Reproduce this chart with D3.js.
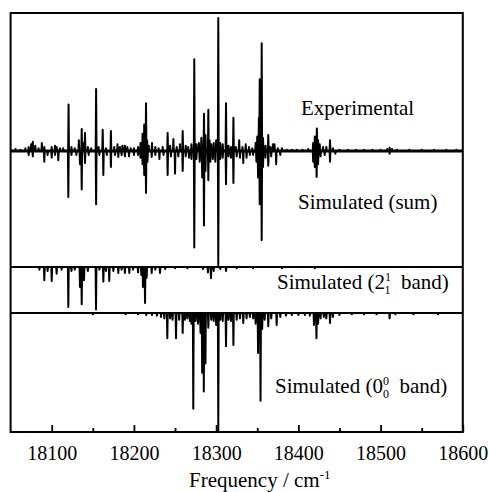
<!DOCTYPE html>
<html>
<head>
<meta charset="utf-8">
<script src="https://cdn.jsdelivr.net/npm/d3@7"></script>
<style>
  body { margin: 0; background: #fff; }
  svg { display: block; }
</style>
</head>
<body>
<svg></svg>
<script>
// chart size
var width = 489;
var height = 492;
var serif = "'Liberation Serif', 'Times New Roman', 'DejaVu Serif', serif";

// peak lists: [frequency (cm-1), intensity]
var experimental = [
  [18056,1.5],[18062,1],[18068,2],[18072,3],[18075,5],[18077,7],[18080,4],[18084,2],[18088,6],[18091,3],[18100,3],[18104,4],[18106,3],[18110,2],[18114,2],
  [18120.5,35],[18124,3],[18128,2],
  [18133,8],[18136.5,16.5],[18138,6],[18140.5,13.5],[18144,3],[18148,2],
  [18154,46.6],[18157,3],
  [18162,16],[18166,2],[18172,15],[18176,3],[18180,5],[18183,3],[18186,4],[18189,4],[18192,3],[18196,2],[18200,2],
  [18205,3],[18208,6],[18210.5,13],[18212.5,20],[18214.7,36],[18216,8],[18218,4],
  [18222,6],[18226,3],[18230,2],[18235,3],
  [18241,13.5],[18244,4],[18248,9],[18252,3],[18256,5],[18259.3,15],[18263,4],[18266,3],[18270,5],
  [18273.4,69],[18276,5],[18279,6],[18282,10],[18285.2,28],[18287,12],[18290.5,31],[18292,8],[18294,5],[18297,6],[18300,8],
  [18302.6,100],[18305,6],[18308,5],[18312,36],[18315,4],[18318,3],[18321,25],[18324,3],[18328,8],[18332,3],[18336,5],[18340,3],[18344,2],
  [18348,6],[18350,11],[18352,25],[18353,54],[18355.4,81],[18357,10],[18360,4],[18363.4,12],[18366,3],[18369,5],[18371,5],[18375,2],[18380,2],
  [18386,1],[18392,1],[18398,1],[18405,1],[18412,1.5],
  [18418,6],[18420,11],[18422.5,17],[18424,8],[18426,5],[18430,3],[18434,3],[18438.5,8],[18442,2],
  [18450,1],[18460,1],[18470,1],[18480,1],[18490,1],[18500,1],[18508,1.5],[18511,2.5],[18514,1.5],[18520,1],[18535,1],[18550,1],[18565,1],[18580,1],[18592,1]
];

var simulatedSum = [
  [18072,3],[18077,4],[18091,8],[18095,3],[18100,5],[18104,3],[18108,7],
  [18120.2,34.6],[18124,3],[18130,3],[18134.4,10],[18136.5,29],[18140.5,9],[18145,3],
  [18154,40],[18158,3],[18162.8,18],[18167,3],[18172,12],[18177,3],[18181,4.5],[18185,3],[18189,4],[18194,4],[18200,3],[18205,3],
  [18208,5],[18210.5,10],[18212.5,18],[18214.7,31.6],[18216.5,8],[18221.6,4.5],[18226,3],[18231,6],[18236,3],
  [18241,18],[18245,4],[18250,17],[18254,4],[18259.3,15],[18263,4],[18267,5],[18270,6],
  [18273.4,72.6],[18276,6],[18280,8],[18283,20],[18285.2,56],[18287,15],[18290.5,22],[18293,8],[18296,6],[18299,8],
  [18302.6,86],[18305,6],[18308,5],[18312,25],[18315,4],[18318,5],[18321,24],[18325,4],[18329,5],[18333,9],[18337,5],[18341,3],[18345,3],
  [18349,8],[18351,20],[18353,40],[18355.4,67],[18357,12],[18360,5],[18363.4,11],[18367,4],[18373,10],[18378,3],
  [18418,8],[18420,12],[18422.2,19.5],[18424,10],[18427,4],[18432,3],[18438.5,8],[18445,2],[18511,2]
];

var band21 = [
  [18085,2],[18091,10],[18095,3],[18100,10.5],[18106,5],[18112,2],
  [18120.2,30],[18124,3],[18128,2],[18134.4,15],[18136.5,28],[18139.3,10],[18144,3],
  [18153.9,32],[18158,2],[18162.8,11],[18166,3],[18170,10.5],[18175,3],[18181,4.5],[18185,2],[18189,4.5],[18194.4,4.5],[18199,2],[18205,4],
  [18209,6],[18211,15],[18213.5,27],[18215.5,8],[18221.6,4.5],[18226,2],[18231.7,4.5],[18238,1.5],[18250,1],[18265,1],
  [18284,1.5],[18290,4],[18293.7,8.5],[18297,3],[18305,1.5],[18312,3],[18325,1],[18345,1],[18380,1],[18420,1]
];

var band00 = [
  [18150,1],[18190,1],[18205,1],[18215,1.5],[18222,1.5],[18228,2],[18233,3],[18237,4],[18240.6,19],[18244,4],[18247,5],[18251.2,19],[18255,5],[18259.3,15],[18262,5],[18265,4],[18268,6],[18270,8],
  [18272.2,72],[18275,6],[18278,8],[18281,15],[18283,45],[18285,59],[18287,38],[18290.5,11],[18294,5],[18297,6],[18300,9],
  [18302.6,89],[18305,5],[18308,6],[18312,25],[18315,5],[18318,6],[18321,24],[18325,5],[18329,4],[18333,7.5],[18337,4],[18341,3],[18345,4],
  [18348,8],[18351,30],[18354,66],[18356,12],[18359,5],[18363.4,10],[18367,4],[18373.6,9],[18378,3],[18385,2],[18392,1.5],[18400,1.5],[18408,1.5],[18414,2],
  [18419,9],[18422,19],[18424,8],[18427,4],[18431,3],[18434,4],[18438.5,7.5],[18442,3],[18450,1.5],[18465,1],[18480,1],[18495,1],[18511,4],[18518,1],[18540,1],[18570,1]
];

// axis ticks
var majorTicks = [18100, 18200, 18300, 18400, 18500, 18600];
var minorTicks = [18150, 18250, 18350, 18450, 18550];

var svg = d3.select("svg")
  .attr("width", width)
  .attr("height", height);

// scales
var x = d3.scaleLinear().domain([18050, 18600]).range([10.6, 462.8]);
var yExp = d3.scaleLinear().domain([0, 103.8]).range([151, 13]);
var ySum = d3.scaleLinear().domain([0, 87.2]).range([151, 267]);
var yMid = d3.scaleLinear().domain([0, 34.6]).range([267, 313]);
var yLow = d3.scaleLinear().domain([0, 89.5]).range([313, 432]);

// turn a peak list into a stick trace along the baseline
function trace(peaks) {
  var pts = [[x.domain()[0], 0]];
  peaks.slice().sort(function(a, b) { return a[0] - b[0]; }).forEach(function(p) {
    pts.push([p[0] - 0.5, 0], [p[0], p[1]], [p[0] + 0.5, 0]);
  });
  pts.push([x.domain()[1], 0]);
  return pts;
}

function draw(peaks, y) {
  svg.append("path")
    .attr("d", d3.line().x(function(d) { return x(d[0]); }).y(function(d) { return y(d[1]); })(trace(peaks)))
    .attr("fill", "none")
    .attr("stroke", "#000")
    .attr("stroke-width", 2)
    .attr("stroke-linejoin", "round");
}

draw(simulatedSum, ySum);
draw(experimental, yExp);
draw(band21, yMid);
draw(band00, yLow);

// noisy experimental baseline
svg.append("line")
  .attr("x1", x.range()[0]).attr("x2", x.range()[1])
  .attr("y1", yExp(0)).attr("y2", yExp(0))
  .attr("stroke", "#000").attr("stroke-width", 2.8);

// frame and panel dividers
svg.append("rect")
  .attr("x", x.range()[0]).attr("y", yExp.range()[1])
  .attr("width", x.range()[1] - x.range()[0])
  .attr("height", yLow.range()[1] - yExp.range()[1])
  .attr("fill", "none").attr("stroke", "#000").attr("stroke-width", 2);

[ySum.range()[1], yMid.range()[1]].forEach(function(v) {
  svg.append("line")
    .attr("x1", x.range()[0]).attr("x2", x.range()[1])
    .attr("y1", v).attr("y2", v)
    .attr("stroke", "#000").attr("stroke-width", 2);
});

// bottom axis
var axis = svg.append("g")
  .attr("transform", "translate(0," + yLow.range()[1] + ")")
  .call(d3.axisBottom(x).tickValues(majorTicks).tickSizeInner(-7).tickSizeOuter(0).tickPadding(14).tickFormat(d3.format("d")));
axis.select(".domain").remove();
axis.selectAll("line").attr("stroke-width", 1.8);
axis.selectAll("text").style("font-family", serif).style("font-size", "20px").attr("fill", "#000");

var minor = svg.append("g")
  .attr("transform", "translate(0," + yLow.range()[1] + ")")
  .call(d3.axisBottom(x).tickValues(minorTicks).tickSizeInner(-4).tickSizeOuter(0).tickFormat(""));
minor.select(".domain").remove();
minor.selectAll("line").attr("stroke-width", 1.8);

function label(xp, yp) {
  return svg.append("text").attr("x", xp).attr("y", yp)
    .style("font-family", serif).style("font-size", "21px").style("white-space", "pre");
}

// axis title
var title = label(189, 486.5);
title.append("tspan").text("Frequency / cm");
title.append("tspan").style("font-size", "13px").attr("dy", -8).text("-1");

// panel labels
label(301, 115).text("Experimental");
label(298, 209).text("Simulated (sum)");

function bandLabel(xp, yp, base, upper, lower) {
  var t = label(xp, yp);
  t.append("tspan").text("Simulated (" + base);
  t.append("tspan").style("font-size", "12px").attr("dy", -8).text(upper);
  t.append("tspan").style("font-size", "12px").attr("dx", -6).attr("dy", 13).text(lower);
  t.append("tspan").attr("dy", -5).text("  band)");
}
bandLabel(277, 289, "2", "1", "1");
bandLabel(275, 393, "0", "0", "0");
</script>
</body>
</html>
